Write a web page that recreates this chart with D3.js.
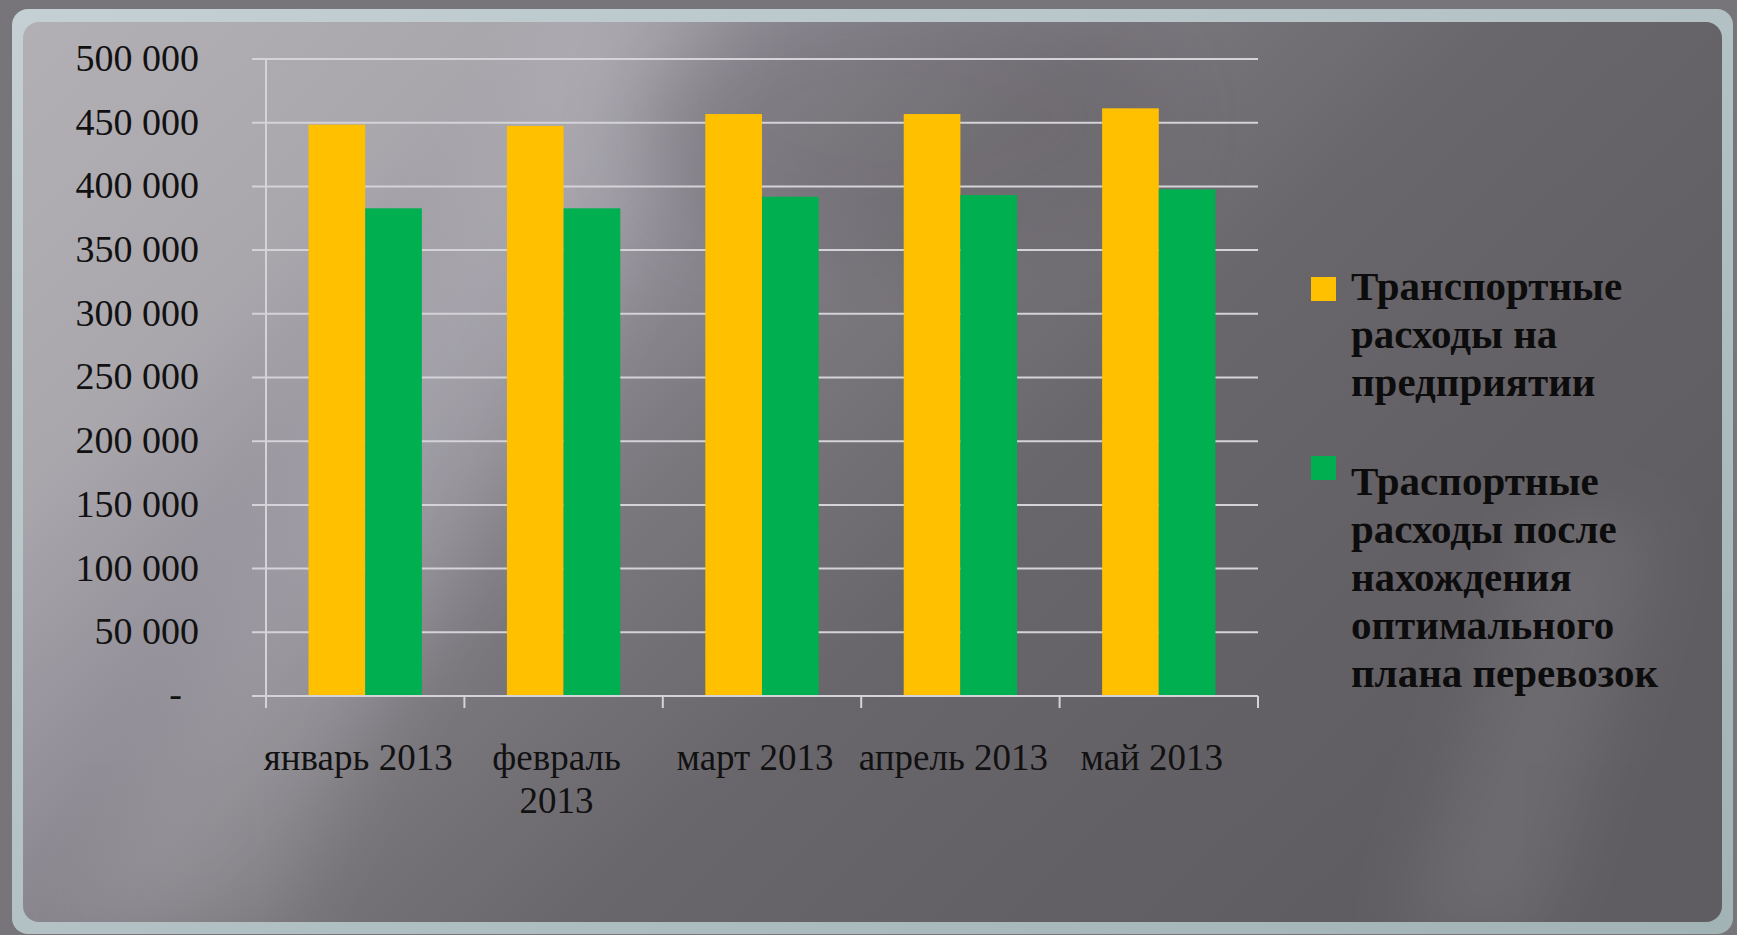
<!DOCTYPE html>
<html>
<head>
<meta charset="utf-8">
<script src="https://cdn.jsdelivr.net/npm/d3@7"></script>
<style>
  html, body { margin: 0; padding: 0; background: #77757a; }
  svg { display: block; }
</style>
</head>
<body>
<div id="chart"></div>
<script>
// chart data
var months = ["январь 2013", "февраль 2013", "март 2013", "апрель 2013", "май 2013"];
var seriesNames = ["Транспортные расходы на предприятии",
                   "Траспортные расходы после нахождения оптимального плана перевозок"];
var costsBefore = [448500, 447500, 456800, 456800, 461300];
var costsAfter = [382800, 382800, 391900, 393200, 397700];
var yTicks = [0, 50000, 100000, 150000, 200000, 250000, 300000, 350000, 400000, 450000, 500000];
var seriesColors = ["#ffc000", "#00b050"];

var W = 1737, H = 935;
var margin = {top: 59, left: 266, right: 479, bottom: 239};
var width = W - margin.left - margin.right,
    height = H - margin.top - margin.bottom;

var svg = d3.select("#chart").append("svg")
  .attr("width", W)
  .attr("height", H);

var defs = svg.append("defs");

// background gradients
var bg = defs.append("linearGradient").attr("id", "bgGrad")
  .attr("x1", 0).attr("y1", 0).attr("x2", 1).attr("y2", 0.55);
[[0, "#b2afb5"], [0.22, "#a9a6ac"], [0.36, "#94919a"], [0.5, "#7a777d"], [0.68, "#69666b"], [1, "#5f5c62"]]
  .forEach(function(s) { bg.append("stop").attr("offset", s[0]).attr("stop-color", s[1]); });

var border = defs.append("linearGradient").attr("id", "borderGrad")
  .attr("x1", 0).attr("y1", 0).attr("x2", 1).attr("y2", 1);
border.append("stop").attr("offset", 0).attr("stop-color", "#c4d0d3");
border.append("stop").attr("offset", 1).attr("stop-color", "#a2b3b5");

defs.append("filter").attr("id", "blur")
  .attr("x", "-20%").attr("y", "-20%").attr("width", "140%").attr("height", "140%")
  .append("feGaussianBlur").attr("stdDeviation", 40);

defs.append("clipPath").attr("id", "panelClip")
  .append("rect").attr("x", 23).attr("y", 22).attr("width", 1699).attr("height", 900).attr("rx", 16);

// frame
svg.append("rect").attr("x", 12).attr("y", 9).attr("width", 1721).attr("height", 925)
  .attr("rx", 16).attr("fill", "url(#borderGrad)");

var panel = svg.append("g").attr("clip-path", "url(#panelClip)");
panel.append("rect").attr("x", 23).attr("y", 22).attr("width", 1699).attr("height", 900)
  .attr("fill", "url(#bgGrad)");

// light diagonal streaks
var streaks = [
  [[560, 0], [760, 0], [260, 940], [60, 940]],
  [[1540, 520], [1660, 520], [1540, 940], [1400, 940]]
];
panel.selectAll("polygon.streak").data(streaks).enter().append("polygon")
  .attr("class", "streak")
  .attr("points", function(d) { return d.map(function(p) { return p.join(","); }).join(" "); })
  .attr("fill", "#ffffff").attr("opacity", function(d, i) { return i === 0 ? 0.13 : 0.09; })
  .attr("filter", "url(#blur)");

// dark patch in the top middle
panel.append("ellipse").attr("cx", 900).attr("cy", 120).attr("rx", 260).attr("ry", 140)
  .attr("fill", "#5e5b60").attr("opacity", 0.35).attr("filter", "url(#blur)");

var g = svg.append("g").attr("transform", "translate(" + margin.left + "," + margin.top + ")");

var x0 = d3.scaleBand().domain(months).range([0, width]).padding(0);
var bw = x0.bandwidth() / 3.5;
var x1 = d3.scaleBand().domain([0, 1])
  .range([bw * 0.75, x0.bandwidth() - bw * 0.75]).padding(0);
var y = d3.scaleLinear().domain([0, 500000]).range([height, 0]);

var locale = d3.formatLocale({decimal: ",", thousands: " ", grouping: [3], currency: ["", ""]});
var fmt = locale.format(",");

var lineColor = "#d4d3d7";

// gridlines
g.append("g").selectAll("line").data(yTicks.slice(1)).enter().append("line")
  .attr("x1", -14).attr("x2", width)
  .attr("y1", function(d) { return y(d); }).attr("y2", function(d) { return y(d); })
  .attr("stroke", lineColor).attr("stroke-width", 2);

// bars
var series = [costsBefore, costsAfter];
series.forEach(function(vals, si) {
  g.append("g").selectAll("rect").data(vals).enter().append("rect")
    .attr("x", function(d, i) { return x0(months[i]) + x1(si); })
    .attr("width", x1.bandwidth())
    .attr("y", function(d) { return y(d); })
    .attr("height", function(d) { return height - y(d); })
    .attr("fill", seriesColors[si]);
});

// axes
var yAxis = d3.axisLeft(y).tickValues(yTicks).tickSize(14)
  .tickFormat(function(d) { return d === 0 ? "" : fmt(d); });
var ya = g.append("g").call(yAxis);
ya.select(".domain").remove();
ya.selectAll(".tick line").remove();
ya.selectAll(".tick text")
  .attr("x", -67).attr("dy", "0.3em")
  .style("font-family", "'Liberation Serif', 'Times New Roman', serif")
  .style("font-size", "38px").style("fill", "#111");

g.append("text").attr("x", -84).attr("y", y(0)).attr("dy", "0.3em")
  .attr("text-anchor", "end")
  .style("font-family", "'Liberation Serif', serif").style("font-size", "38px").style("fill", "#111")
  .text("-");

g.append("line").attr("x1", 0).attr("x2", 0).attr("y1", 0).attr("y2", height + 12)
  .attr("stroke", lineColor).attr("stroke-width", 2);
g.append("line").attr("x1", -14).attr("x2", width).attr("y1", height).attr("y2", height)
  .attr("stroke", lineColor).attr("stroke-width", 2);
g.append("g").selectAll("line").data(months.concat(["end"])).enter().append("line")
  .attr("x1", function(d, i) { return i * x0.bandwidth(); })
  .attr("x2", function(d, i) { return i * x0.bandwidth(); })
  .attr("y1", height).attr("y2", height + 12)
  .attr("stroke", lineColor).attr("stroke-width", 2);

// category labels, wrapped to the band width
function wrapText(textSel, maxW, lineH) {
  textSel.each(function() {
    var t = d3.select(this), words = t.text().split(/\s+/), line = [];
    var tx = t.attr("x");
    t.text(null);
    var ts = t.append("tspan").attr("x", tx).attr("dy", 0);
    words.forEach(function(w) {
      line.push(w);
      ts.text(line.join(" "));
      if (ts.node().getComputedTextLength() > maxW && line.length > 1) {
        line.pop();
        ts.text(line.join(" "));
        line = [w];
        ts = t.append("tspan").attr("x", tx).attr("dy", lineH).text(w);
      }
    });
  });
}

g.append("g").selectAll("text").data(months).enter().append("text")
  .attr("x", function(d) { return x0(d) + x0.bandwidth() / 2 - 7; })
  .attr("y", 711)
  .attr("text-anchor", "middle")
  .style("font-family", "'Liberation Serif', serif").style("font-size", "37px").style("fill", "#111")
  .text(function(d) { return d; })
  .call(wrapText, x0.bandwidth() + 2, 43);

// legend
var legendX = 1351;
var legendTop = [300, 495];
var markerTop = [277, 456];
seriesNames.forEach(function(name, si) {
  svg.append("rect").attr("x", 1311).attr("y", markerTop[si]).attr("width", 25).attr("height", 24)
    .attr("fill", seriesColors[si]);
  svg.append("text").attr("x", legendX).attr("y", legendTop[si])
    .style("font-family", "'Liberation Serif', serif").style("font-weight", "bold")
    .style("font-size", "41px").style("fill", "#0c0c0c")
    .text(name)
    .call(wrapText, 350, 48);
});
</script>
</body>
</html>
